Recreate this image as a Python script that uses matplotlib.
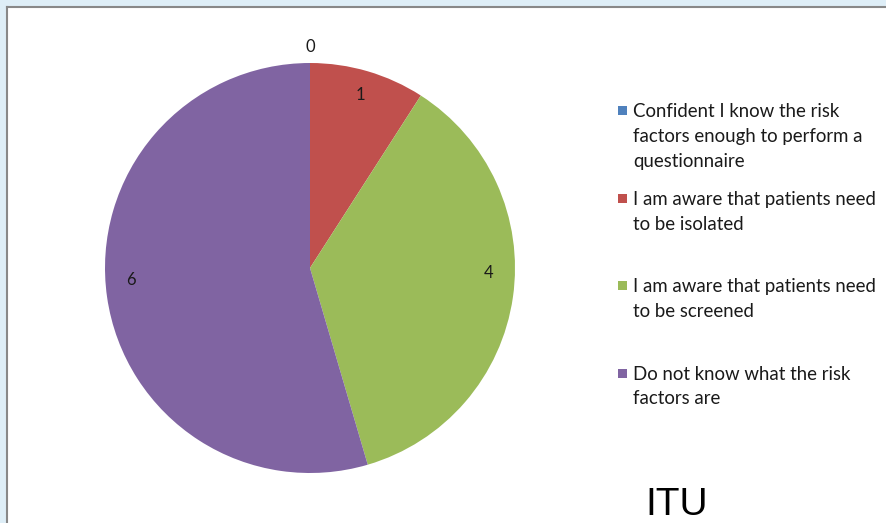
import textwrap
import numpy as np
import matplotlib
matplotlib.use("Agg")
import matplotlib.pyplot as plt
from matplotlib.patches import Rectangle
from matplotlib.lines import Line2D

# data
categories = [
    "Confident I know the risk factors enough to perform a questionnaire",
    "I am aware that patients need to be isolated",
    "I am aware that patients need to be screened",
    "Do not know what the risk factors are",
]
counts = [0, 1, 4, 6]
slice_colors = ["#4F81BD", "#C0504D", "#9BBB59", "#8064A2"]
chart_title = "ITU"

W, H = 887, 523


def fx(x):
    return x / W


def fy(y):
    # pixel from top -> figure fraction
    return 1 - y / H


fig = plt.figure(figsize=(W / 100, H / 100), dpi=100)
fig.patch.set_facecolor("#DEEEF7")

# white chart area with grey frame on top / left
fig.add_artist(Rectangle((fx(7), 0), 1 - fx(7), fy(6.5), transform=fig.transFigure,
                         facecolor="white", edgecolor="none", zorder=0))
fig.add_artist(Line2D([fx(7), fx(7)], [0, fy(6.5)], transform=fig.transFigure,
                      color="#888888", lw=1.5))
fig.add_artist(Line2D([fx(7), 1], [fy(6.5), fy(6.5)], transform=fig.transFigure,
                      color="#888888", lw=1.5))

# pie
cx, cy, r = 310, 268, 205
ax = fig.add_axes([fx(cx - r), fy(cy + r), 2 * r / W, 2 * r / H])
ax.pie(counts, colors=slice_colors, startangle=90, counterclock=False, radius=1,
       wedgeprops=dict(linewidth=0))
ax.set_xlim(-1, 1)
ax.set_ylim(-1, 1)
ax.set_aspect("equal")
ax.axis("off")

# value labels (Excel "best fit" sits the big ones a bit higher)
label_lift = [0.0, 0.0, 0.1, 0.065]
total = float(sum(counts))
start = 90.0
for v, lift in zip(counts, label_lift):
    span = 360.0 * v / total
    mid = np.deg2rad(start - span / 2)
    dist = 1.08 if v == 0 else 0.88
    ax.text(dist * np.cos(mid), dist * np.sin(mid) + lift, str(v), ha="center", va="center",
            fontsize=12, family=["Lato", "DejaVu Sans"], color="#1a1a1a", clip_on=False)
    start -= span

# legend drawn by hand (Excel style: wrapped text, square markers)
first_base = 117
item_step = 87.5
line_step = 25
for i, (lab, col) in enumerate(zip(categories, slice_colors)):
    base = first_base + i * item_step
    fig.add_artist(Rectangle((fx(618), fy(base - 2)), 9 / W, 9 / H,
                             transform=fig.transFigure, facecolor=col, edgecolor="none"))
    for j, line in enumerate(textwrap.wrap(lab, 29)):
        fig.text(fx(633), fy(base + j * line_step), line, ha="left", va="baseline",
                 fontsize=13.4, family=["Lato", "DejaVu Sans"], color="#1a1a1a")

fig.text(fx(677), fy(515), chart_title, ha="center", va="baseline", fontsize=28,
         family=["Liberation Sans Narrow", "Liberation Sans", "DejaVu Sans"], color="black")

fig.savefig("out.png", dpi=100, facecolor=fig.get_facecolor())
